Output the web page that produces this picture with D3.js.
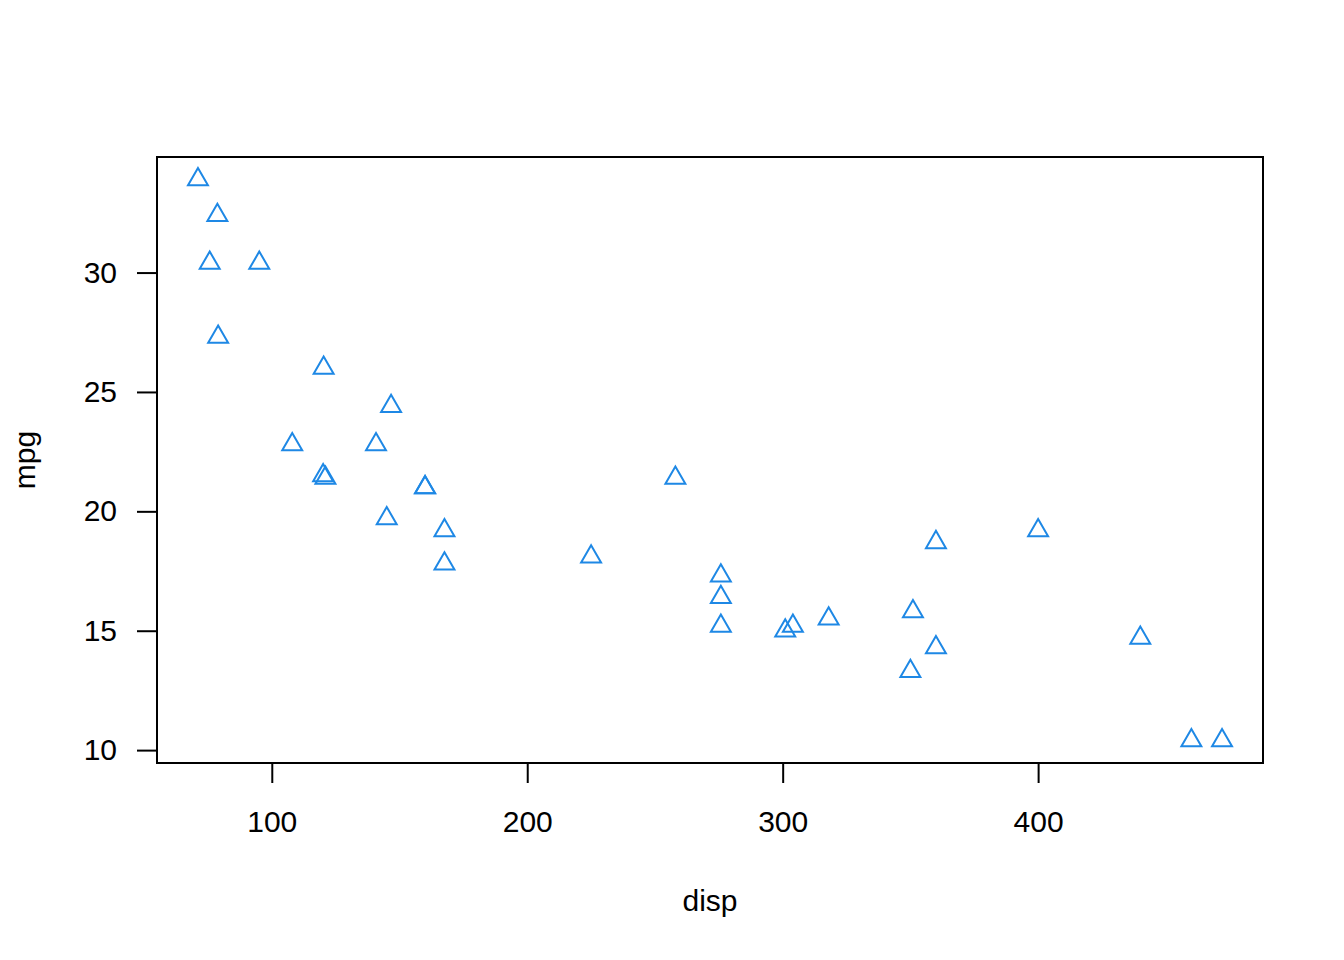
<!DOCTYPE html>
<html><head><meta charset="utf-8">
<script src="https://cdn.jsdelivr.net/npm/d3@7"></script>
<style>body{margin:0;background:#fff}svg{display:block}text{font-family:"Liberation Sans",Arial,sans-serif;fill:#000}</style>
</head><body>
<svg id="c" width="1344" height="960"></svg>
<script>
const disp = [160,160,108,258,360,225,360,146.7,140.8,167.6,167.6,275.8,275.8,275.8,472,460,440,78.7,75.7,71.1,120.1,318,304,350,400,79,120.3,95.1,351,145,301,121];
const mpg = [21.0,21.0,22.8,21.4,18.7,18.1,14.3,24.4,22.8,19.2,17.8,16.4,17.3,15.2,10.4,10.4,14.7,32.4,30.4,33.9,21.5,15.5,15.2,13.3,19.2,27.3,26.0,30.4,15.8,19.7,15.0,21.4];
const xTicks = [100,200,300,400];
const yTicks = [10,15,20,25,30];
const xLabel = "disp", yLabel = "mpg";

const L=157,R=1263,T=157,B=763;
const svg=d3.select("#c");
const pad=(e,f=0.04)=>{const r=e[1]-e[0];return [e[0]-r*f,e[1]+r*f];};
const x=d3.scaleLinear().domain(pad(d3.extent(disp))).range([L,R]);
const y=d3.scaleLinear().domain(pad(d3.extent(mpg))).range([B,T]);

svg.append("rect").attr("x",L).attr("y",T).attr("width",R-L).attr("height",B-T)
  .attr("fill","none").attr("stroke","#000").attr("stroke-width",2);

const xa=svg.append("g").attr("transform",`translate(0,${B})`)
  .call(d3.axisBottom(x).tickValues(xTicks).tickSize(20).tickPadding(28).tickSizeOuter(0));
const ya=svg.append("g").attr("transform",`translate(${L},0)`)
  .call(d3.axisLeft(y).tickValues(yTicks).tickSize(20).tickPadding(20).tickSizeOuter(0));
[xa,ya].forEach(a=>{a.select(".domain").remove();
  a.selectAll("line").attr("stroke","#000").attr("stroke-width",2);
  a.selectAll("text").attr("font-size",30).attr("font-family","Liberation Sans, Arial, sans-serif").attr("fill","#000");});

svg.append("text").attr("x",(L+R)/2).attr("y",911).attr("text-anchor","middle").attr("font-size",30).text(xLabel);
svg.append("text").attr("transform",`translate(35,${(T+B)/2}) rotate(-90)`).attr("text-anchor","middle").attr("font-size",30).text(yLabel);

const s=7.4, r=1.5551*s, hx=1.3468*s, hy=0.7776*s;
const tri=`M0,${-r}L${hx},${hy}L${-hx},${hy}Z`;
svg.append("g").selectAll("path").data(disp.map((d,i)=>[d,mpg[i]])).join("path")
  .attr("transform",d=>`translate(${x(d[0])},${y(d[1])})`)
  .attr("d",tri).attr("fill","none").attr("stroke","#1E88E5").attr("stroke-width",2);
</script>
</body></html>
